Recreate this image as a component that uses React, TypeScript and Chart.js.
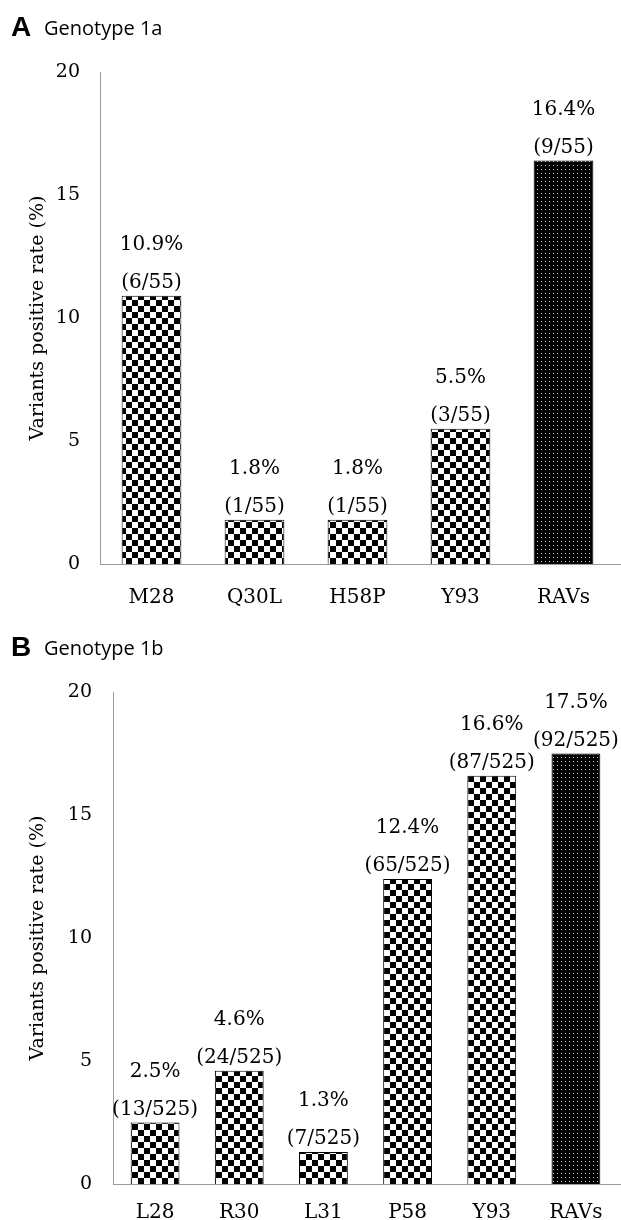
import React, { useEffect, useRef } from "react";
import { Chart, registerables } from "chart.js";

Chart.register(...registerables);

// ---- Data ----
const categoriesA = ["M28", "Q30L", "H58P", "Y93", "RAVs"];
const ratesA = [10.9, 1.8, 1.8, 5.5, 16.4];
const positivesA = [6, 1, 1, 3, 9];
const totalA = 55;

const categoriesB = ["L28", "R30", "L31", "P58", "Y93", "RAVs"];
const ratesB = [2.5, 4.6, 1.3, 12.4, 16.6, 17.5];
const positivesB = [13, 24, 7, 65, 87, 92];
const totalB = 525;

const yMin = 0;
const yMax = 20;
const yStep = 5;
const yTitle = "Variants positive rate (%)";

const SERIF = '"DejaVu Serif", serif';

function makeChecker(size: number): CanvasPattern | string {
  const c = document.createElement("canvas");
  c.width = size * 2;
  c.height = size * 2;
  const g = c.getContext("2d");
  if (!g) return "#000";
  g.fillStyle = "#fff";
  g.fillRect(0, 0, size * 2, size * 2);
  g.fillStyle = "#000";
  g.fillRect(0, 0, size, size);
  g.fillRect(size, size, size, size);
  return g.createPattern(c, "repeat") || "#000";
}

function makeDots(): CanvasPattern | string {
  const c = document.createElement("canvas");
  c.width = 4;
  c.height = 4;
  const g = c.getContext("2d");
  if (!g) return "#000";
  g.fillStyle = "#000";
  g.fillRect(0, 0, 4, 4);
  g.fillStyle = "#d0d0d0";
  g.fillRect(1, 1, 1, 1);
  return g.createPattern(c, "repeat") || "#000";
}

type PanelProps = {
  letter: string;
  subtitle: string;
  categories: string[];
  rates: number[];
  positives: number[];
  total: number;
  height: number;
  top: number;
  yWidth: number;
  rightPad: number;
  xHeight: number;
  xPad: number;
  yPad: number;
};

function Panel(p: PanelProps) {
  const ref = useRef<HTMLCanvasElement | null>(null);
  useEffect(() => {
    if (!ref.current) return;
    const checker = makeChecker(6);
    const dots = makeDots();
    const last = p.categories.length - 1;

    const overlay = {
      id: "overlay",
      afterDatasetsDraw(chart: any) {
        const ctx = chart.ctx;
        const meta = chart.getDatasetMeta(0);
        ctx.save();
        ctx.fillStyle = "#000";
        ctx.textAlign = "center";
        ctx.textBaseline = "middle";
        ctx.font = `20px ${SERIF}`;
        meta.data.forEach((bar: any, i: number) => {
          ctx.fillText(p.rates[i].toFixed(1) + "%", bar.x, bar.y - 51);
          ctx.fillText(`(${p.positives[i]}/${p.total})`, bar.x, bar.y - 13);
        });
        ctx.restore();
      },
      afterDraw(chart: any) {
        const ctx = chart.ctx;
        const area = chart.chartArea;
        ctx.save();
        ctx.strokeStyle = "#9a9a9a";
        ctx.lineWidth = 1;
        ctx.beginPath();
        ctx.moveTo(area.right, Math.round(area.bottom) + 0.5);
        ctx.lineTo(chart.width, Math.round(area.bottom) + 0.5);
        ctx.stroke();
        ctx.fillStyle = "#000";
        ctx.textAlign = "left";
        ctx.textBaseline = "alphabetic";
        ctx.font = 'bold 28px "Liberation Sans", sans-serif';
        ctx.fillText(p.letter, 11, 36);
        ctx.font = '20px "Open Sans", sans-serif';
        ctx.fillText(p.subtitle, 44, 35);
        ctx.restore();
      },
    };

    const chart = new Chart(ref.current, {
      type: "bar",
      data: {
        labels: p.categories,
        datasets: [
          {
            data: p.rates,
            backgroundColor: p.categories.map((_, i) => (i === last ? dots : checker)) as any,
            borderColor: "#000",
            borderWidth: 1,
            barPercentage: 0.58,
            categoryPercentage: 1,
          },
        ],
      },
      options: {
        responsive: false,
        animation: false,
        devicePixelRatio: 1,
        layout: { padding: { top: 72, left: 0, right: p.rightPad, bottom: 0 } },
        plugins: {
          legend: { display: false },
          tooltip: { enabled: false },
          title: { display: false },
        },
        scales: {
          x: {
            grid: { display: false, drawTicks: false },
            border: { color: "#9a9a9a", width: 1 },
            ticks: {
              color: "#000",
              font: { family: SERIF, size: 20 },
              padding: p.xPad,
              maxRotation: 0,
              autoSkip: false,
            },
            afterFit: (s: any) => {
              s.height = p.xHeight;
            },
          },
          y: {
            min: yMin,
            max: yMax,
            grid: { display: false, drawTicks: false },
            border: { color: "#9a9a9a", width: 1 },
            ticks: {
              stepSize: yStep,
              color: "#000",
              font: { family: SERIF, size: 19 },
              padding: p.yPad,
            },
            title: {
              display: true,
              text: yTitle,
              color: "#000",
              font: { family: SERIF, size: 19 },
              padding: { top: 27, bottom: 0 },
            },
            afterFit: (s: any) => {
              s.width = p.yWidth;
            },
          },
        },
      } as any,
      plugins: [overlay],
    });
    return () => chart.destroy();
  }, []);

  return (
    <canvas
      ref={ref}
      width={621}
      height={p.height}
      style={{ position: "absolute", left: 0, top: p.top, width: 621, height: p.height }}
    />
  );
}

export default function App() {
  return (
    <div style={{ position: "absolute", left: 0, top: 0, width: 621, height: 1220, background: "#fff" }}>
      <Panel
        letter="A"
        subtitle="Genotype 1a"
        categories={categoriesA}
        rates={ratesA}
        positives={positivesA}
        total={totalA}
        top={0}
        height={610}
        yWidth={100}
        rightPad={6}
        xHeight={46}
        xPad={22}
        yPad={20}
      />
      <Panel
        letter="B"
        subtitle="Genotype 1b"
        categories={categoriesB}
        rates={ratesB}
        positives={positivesB}
        total={totalB}
        top={620}
        height={600}
        yWidth={113}
        rightPad={3}
        xHeight={36}
        xPad={17}
        yPad={21}
      />
    </div>
  );
}
